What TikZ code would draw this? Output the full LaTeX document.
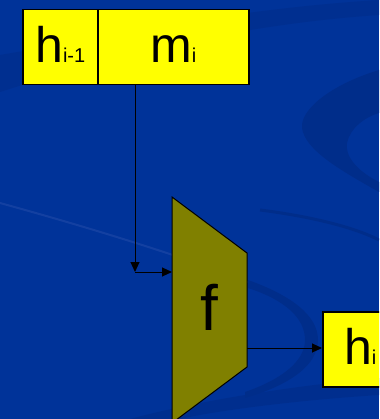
\documentclass[tikz,border=0pt]{standalone}
\usepackage{fontspec}
\newfontfamily\arialfont{Liberation Sans}
\usetikzlibrary{arrows.meta}
\definecolor{slideblue}{RGB}{0,51,153}
\definecolor{swirldark}{RGB}{0,45,138}
\definecolor{swirllight}{RGB}{28,70,165}
\definecolor{boxyellow}{RGB}{255,255,0}
\definecolor{olivefill}{RGB}{128,128,0}
% large letter followed by a smaller index on the same baseline
\newcommand{\idxlabel}[2]{\fontsize{50}{50}\selectfont #1\fontsize{20}{20}\selectfont #2}

\begin{document}
\begin{tikzpicture}[x=1pt,y=-1pt,
  cell/.style={draw=black, line width=1.5pt, fill=boxyellow, inner sep=0pt,
    minimum height=75pt, text height=53pt, text depth=22pt,
    font=\arialfont, anchor=north west},
  link/.style={draw=black, line width=1pt, -{Triangle[length=10pt,width=9pt]}},
  block/.style={draw=black, line width=1pt, fill=olivefill, line join=miter},
]
\useasboundingbox (0,0) rectangle (379,419);
\clip (0,0) rectangle (379,419);

% slide background with faint swirls
\fill[slideblue] (0,0) rectangle (379,419);
\fill[swirldark, opacity=0.6] (0,55) .. controls (90,40) and (220,10) .. (379,0)
  -- (379,15) .. controls (230,25) and (100,60) .. (0,92) -- cycle;
\fill[swirldark] (379,70) .. controls (330,85) and (300,110) .. (302,128)
  .. controls (305,150) and (340,170) .. (379,192)
  -- (379,182) .. controls (355,170) and (345,155) .. (347,143)
  .. controls (350,128) and (365,117) .. (379,113) -- cycle;
\draw[swirllight, line width=2pt, opacity=0.7] (0,203) .. controls (80,225) and (180,255) .. (250,283);
\fill[swirldark] (248,280) .. controls (290,295) and (318,315) .. (318,340)
  .. controls (318,365) and (290,385) .. (245,398)
  -- (245,392) .. controls (280,380) and (305,362) .. (305,340)
  .. controls (305,318) and (285,300) .. (248,288) -- cycle;
\fill[swirldark, opacity=0.7] (130,419) .. controls (200,400) and (300,385) .. (379,378)
  -- (379,395) .. controls (300,400) and (220,410) .. (180,419) -- cycle;
\draw[swirldark, line width=3pt] (260,210) .. controls (300,215) and (350,225) .. (379,240);

% input register
\node[cell, minimum width=75pt] (hprev) at (22,9) {\idxlabel{h}{i-1}};
\node[cell, minimum width=151pt] (mi) at (97,9) {\idxlabel{m}{i}};

% compression function block
\coordinate (ftl) at (172,197);
\coordinate (ftr) at (247,253);
\coordinate (fbr) at (247,367);
\coordinate (fbl) at (172,423);
\draw[block] (ftl) -- (ftr) -- (fbr) -- (fbl) -- cycle;
\node[font=\arialfont\fontsize{64}{64}\selectfont, anchor=base, inner sep=0pt] (f) at (209.5,330) {f};

% output value
\node[cell, minimum width=75pt] (hi) at (322,311) {\idxlabel{h}{i}};

% connectors
\coordinate (bend) at (135,272);
\coordinate (fin) at (172,272);
\coordinate (fout) at (247,348);
\draw[link] (mi.south -| bend) -- (bend);
\draw[link] (bend) -- (fin);
\draw[link] (fout) -- (fout -| hi.west);
\end{tikzpicture}
\end{document}
